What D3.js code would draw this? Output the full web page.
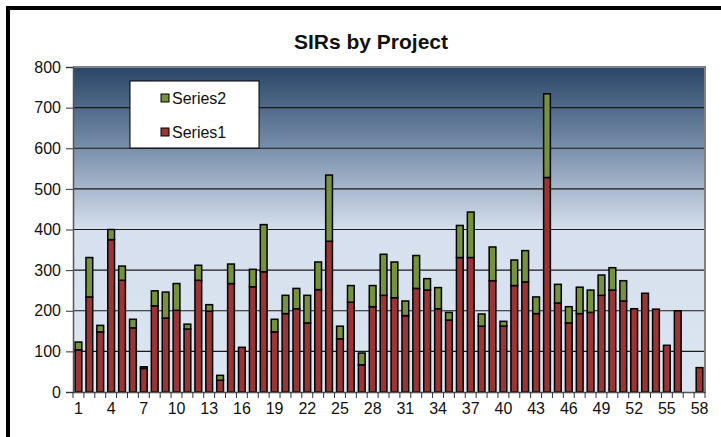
<!DOCTYPE html>
<html>
<head>
<meta charset="utf-8">
<script src="https://cdn.jsdelivr.net/npm/d3@7"></script>
<style>
  body { margin: 0; background: #fff; }
  text { font-family: "Liberation Sans", Arial, sans-serif; fill: #111; }
</style>
</head>
<body>
<div id="main"></div>
<script>
const w = 721, h = 437;
const plotLeft = 73, plotRight = 705, plotTop = 67, plotBottom = 392;

// data
const projects = d3.range(1, 59);
const series1 = [104, 234, 148, 375, 275, 158, 58, 212, 182, 201,
                 155, 275, 199, 29, 267, 110, 259, 296, 148, 193,
                 205, 170, 252, 371, 131, 221, 67, 210, 238, 232,
                 188, 255, 251, 205, 177, 331, 331, 162, 274, 162,
                 262, 271, 193, 528, 219, 170, 193, 196, 238, 251,
                 224, 205, 243, 204, 115, 200, 0, 60];
const series2 = [19, 97, 16, 25, 35, 21, 4, 37, 64, 66,
                 12, 37, 16, 12, 48, 0, 43, 116, 31, 45,
                 50, 68, 68, 163, 31, 41, 29, 52, 101, 88,
                 36, 81, 28, 52, 19, 79, 112, 30, 83, 12,
                 63, 77, 41, 206, 46, 40, 65, 55, 50, 55,
                 50, 0, 0, 0, 0, 0, 0, 0];
const yTicks = [0, 100, 200, 300, 400, 500, 600, 700, 800];
const xLabels = projects.filter(p => (p - 1) % 3 === 0);
const seriesColor = { s1: '#993535', s2: '#76923c' };

const rows = projects.map((p, i) => ({ p: p, s1: series1[i], s2: series2[i] }));
const stacked = d3.stack().keys(['s1', 's2'])(rows);

const svg = d3.select('#main')
              .append('svg')
              .attr('width', w)
              .attr('height', h)

// chart frame
svg.append('rect')
    .attr('x', 8).attr('y', 8)
    .attr('width', 760).attr('height', 480)
    .attr('fill', '#fff')
    .attr('stroke', '#000')
    .attr('stroke-width', 4)

const defs = svg.append('defs')
const grad = defs.append('linearGradient')
                 .attr('id', 'bg')
                 .attr('x1', 0).attr('y1', 0).attr('x2', 0).attr('y2', 1)
grad.append('stop').attr('offset', '0%').attr('stop-color', '#2a4567')
grad.append('stop').attr('offset', '22%').attr('stop-color', '#6e86a3')
grad.append('stop').attr('offset', '50%').attr('stop-color', '#d6e0ee')
grad.append('stop').attr('offset', '100%').attr('stop-color', '#dce6f2')

const xScale = d3.scaleBand()
                 .domain(projects)
                 .range([plotLeft, plotRight])
                 .paddingInner(0.38)
                 .paddingOuter(0.19)
const edgeScale = d3.scaleLinear().domain([0, projects.length]).range([plotLeft, plotRight])
const yScale = d3.scaleLinear().domain([0, 800]).range([plotBottom, plotTop])

svg.append('rect')
    .attr('x', plotLeft).attr('y', plotTop)
    .attr('width', plotRight - plotLeft).attr('height', plotBottom - plotTop)
    .attr('fill', 'url(#bg)')

// gridlines
svg.append('g')
    .selectAll('line')
    .data(yTicks.filter(t => t > 0 && t < 800))
    .enter()
    .append('line')
    .attr('x1', plotLeft).attr('x2', plotRight)
    .attr('y1', d => yScale(d)).attr('y2', d => yScale(d))
    .attr('stroke', '#1a1a1a')
    .attr('stroke-width', 1.2)

// plot border (top / right)
svg.append('path')
    .attr('d', `M${plotLeft},${plotTop}H${plotRight}V${plotBottom}`)
    .attr('fill', 'none')
    .attr('stroke', '#808080')
    .attr('stroke-width', 2)

// bars
svg.append('g')
    .selectAll('g')
    .data(stacked)
    .enter()
    .append('g')
    .attr('fill', d => seriesColor[d.key])
    .selectAll('rect')
    .data(d => d.filter(s => s[1] - s[0] > 0))
    .enter()
    .append('rect')
    .attr('x', d => xScale(d.data.p))
    .attr('width', xScale.bandwidth())
    .attr('y', d => yScale(d[1]))
    .attr('height', d => yScale(d[0]) - yScale(d[1]))
    .attr('stroke', '#000')
    .attr('stroke-width', 1.5)

// y axis
const yAxis = d3.axisLeft(yScale)
                .tickValues(yTicks)
                .tickSize(7)
                .tickPadding(5)
const yLine = svg.append('g')
                 .attr('transform', 'translate(' + plotLeft + ',0)')
                 .call(yAxis)
yLine.select('.domain').attr('stroke', '#555').attr('stroke-width', 1.5)
yLine.selectAll('.tick line').attr('stroke', '#333')
yLine.selectAll('text').style('font-size', '16px').attr('fill', '#111')

// x axis: labels every third project, tick marks between categories
const xAxis = d3.axisBottom(xScale)
                .tickValues(xLabels)
                .tickSize(0)
                .tickPadding(11)
const xLine = svg.append('g')
                 .attr('transform', 'translate(0,' + plotBottom + ')')
                 .call(xAxis)
xLine.select('.domain').attr('stroke', '#555').attr('stroke-width', 1.5)
xLine.selectAll('text').style('font-size', '16px').attr('fill', '#111')

svg.append('g')
    .selectAll('line')
    .data(d3.range(0, projects.length + 1))
    .enter()
    .append('line')
    .attr('x1', d => edgeScale(d)).attr('x2', d => edgeScale(d))
    .attr('y1', plotBottom).attr('y2', plotBottom + 6)
    .attr('stroke', '#333')

// title
svg.append('text')
    .text('SIRs by Project')
    .attr('x', 371)
    .attr('y', 49)
    .attr('text-anchor', 'middle')
    .style('font-size', '21px')
    .style('font-weight', 'bold')

// legend
const legend = svg.append('g').attr('class', 'legend')
legend.append('rect')
    .attr('x', 130).attr('y', 81)
    .attr('width', 129).attr('height', 67)
    .attr('fill', '#fff')
    .attr('stroke', '#000')
const legendItems = [{ key: 's2', name: 'Series2' }, { key: 's1', name: 'Series1' }]
const item = legend.selectAll('g.item')
    .data(legendItems)
    .enter()
    .append('g')
    .attr('class', 'item')
    .attr('transform', (d, i) => 'translate(161,' + (98 + i * 34) + ')')
item.append('rect')
    .attr('x', 0).attr('y', -4)
    .attr('width', 8).attr('height', 8)
    .attr('fill', d => seriesColor[d.key])
    .attr('stroke', '#000')
item.append('text')
    .text(d => d.name)
    .attr('x', 11)
    .attr('y', 6)
    .style('font-size', '16px')
</script>
</body>
</html>
